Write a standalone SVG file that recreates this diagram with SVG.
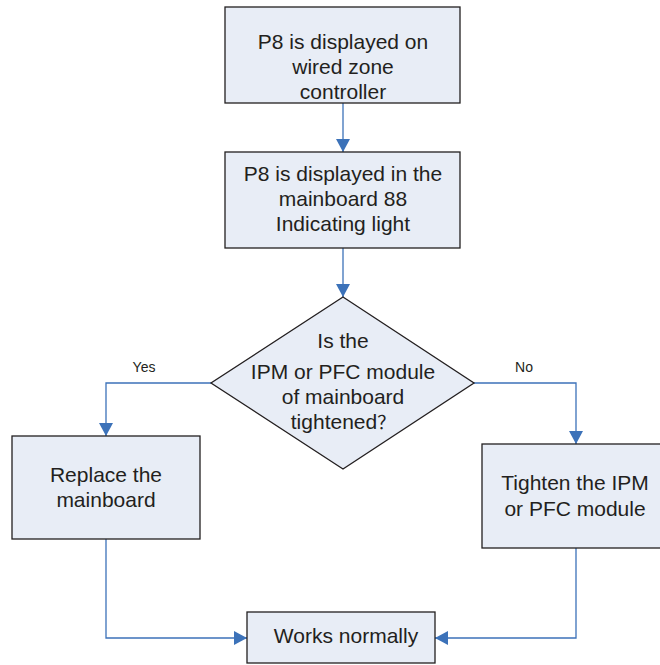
<svg xmlns="http://www.w3.org/2000/svg" width="660" height="665" viewBox="0 0 660 665">
<style>
.box{fill:#e8edf6;stroke:#231f20;stroke-width:1.3}
.t{font-family:"Liberation Sans",Arial,"Noto Sans CJK SC",sans-serif;font-size:21px;fill:#231f20;text-anchor:middle}
.cjk{font-family:"Noto Sans CJK SC",sans-serif;font-size:18px}
.lbl{font-family:"Liberation Sans",Arial,sans-serif;font-size:14px;fill:#231f20;text-anchor:middle}
.c{fill:none;stroke:#3c72b9;stroke-width:1.3}
</style>
<defs>
<marker id="ah" markerUnits="userSpaceOnUse" markerWidth="14" markerHeight="14" refX="13" refY="7" orient="auto">
<path d="M0,0 L13,7 L0,14 z" fill="#3c72b9"/>
</marker>
</defs>
<rect width="660" height="665" fill="#ffffff"/>
<g id="connectors">
<path class="c" d="M343,103 V152" marker-end="url(#ah)"/>
<path class="c" d="M343,248 V297" marker-end="url(#ah)"/>
<path class="c" d="M211,383 H106 V436" marker-end="url(#ah)"/>
<path class="c" d="M474,383 H576 V444" marker-end="url(#ah)"/>
<path class="c" d="M106,539 V638 H247" marker-end="url(#ah)"/>
<path class="c" d="M576,548 V638 H435" marker-end="url(#ah)"/>
<text class="lbl" x="144" y="372">Yes</text>
<text class="lbl" x="524" y="372">No</text>
</g>
<g id="n1">
<rect class="box" x="225" y="7" width="235" height="96"/>
<text class="t" x="343" y="49">P8 is displayed on</text>
<text class="t" x="343" y="74">wired zone</text>
<text class="t" x="343" y="99">controller</text>
</g>
<g id="n2">
<rect class="box" x="225" y="152" width="235" height="96"/>
<text class="t" x="343" y="181">P8 is displayed in the</text>
<text class="t" x="343" y="206">mainboard 88</text>
<text class="t" x="343" y="231">Indicating light</text>
</g>
<g id="n3">
<polygon class="box" points="343,297 474,383 343,469 211,383"/>
<text class="t" x="343" y="348">Is the</text>
<text class="t" x="343" y="379">IPM or PFC module</text>
<text class="t" x="343" y="404">of mainboard</text>
<text class="t" x="343" y="429">tightened<tspan class="cjk">？</tspan></text>
</g>
<g id="n4">
<rect class="box" x="12" y="436" width="188" height="103"/>
<text class="t" x="106" y="482">Replace the</text>
<text class="t" x="106" y="507">mainboard</text>
</g>
<g id="n5">
<rect class="box" x="482" y="444" width="185" height="104"/>
<text class="t" x="575" y="490">Tighten the IPM</text>
<text class="t" x="575" y="516">or PFC module</text>
</g>
<g id="n6">
<rect class="box" x="247" y="612" width="188" height="51"/>
<text class="t" x="346" y="643">Works normally</text>
</g>
</svg>
